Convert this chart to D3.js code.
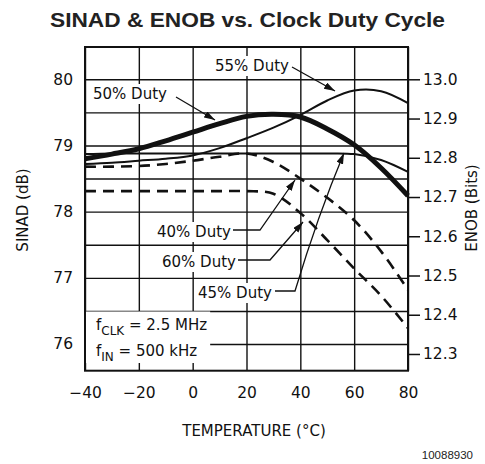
<!DOCTYPE html>
<html><head><meta charset="utf-8">
<script src="https://cdn.jsdelivr.net/npm/d3@7"></script>
<style>body{margin:0;background:#fff}</style>
</head><body>
<svg id="c" width="485" height="464"></svg>
<script>
// ---- data ----
const temps  = [-40, -30, -20, -10, 0, 10, 20, 30, 40, 50, 60, 70, 80];
const duty50 = [78.80, 78.87, 78.95, 79.07, 79.20, 79.33, 79.44, 79.47, 79.43, 79.25, 79.01, 78.66, 78.24];
const duty55 = [78.72, 78.74, 78.77, 78.80, 78.85, 78.96, 79.11, 79.27, 79.46, 79.68, 79.83, 79.82, 79.64];
const duty45 = [78.87, 78.88, 78.88, 78.88, 78.88, 78.88, 78.88, 78.88, 78.88, 78.88, 78.87, 78.78, 78.60];
const duty40 = [78.68, 78.68, 78.69, 78.72, 78.77, 78.83, 78.88, 78.75, 78.50, 78.21, 77.87, 77.40, 76.82];
const duty60 = [78.31, 78.31, 78.31, 78.31, 78.31, 78.31, 78.31, 78.27, 77.98, 77.57, 77.14, 76.73, 76.24];
const xTicks = [-40, -20, 0, 20, 40, 60, 80];
const sinadGrid = [76, 76.5, 77, 77.5, 78, 78.5, 79, 79.5, 80];
const sinadLabels = [76, 77, 78, 79, 80];
const enobTicks = [12.3, 12.4, 12.5, 12.6, 12.7, 12.8, 12.9, 13.0];

const svg = d3.select("#c");
const L = 85, R = 408, T = 47, B = 370.7;
const x = d3.scaleLinear().domain([-40, 80]).range([L, R]);
const y = d3.scaleLinear().domain([75.597, 80.488]).range([B, T]);
const y2 = d3.scaleLinear().domain([12.2574, 13.0823]).range([B, T]);
const FONT = "DejaVu Sans";
const INK = "#111";

svg.append("defs").append("marker")
  .attr("id", "ah").attr("markerUnits", "userSpaceOnUse")
  .attr("markerWidth", 12).attr("markerHeight", 8)
  .attr("refX", 11).attr("refY", 3.5).attr("orient", "auto")
  .append("path").attr("d", "M0,0 L11,3.5 L0,7 Z").attr("fill", INK);

// title
svg.append("text").attr("x", 247.5).attr("y", 27).attr("text-anchor", "middle")
  .attr("font-family", "Liberation Sans, Arial, sans-serif").attr("font-weight", "bold")
  .attr("font-size", 21).attr("fill", "#222")
  .attr("textLength", 395).attr("lengthAdjust", "spacingAndGlyphs")
  .text("SINAD & ENOB vs. Clock Duty Cycle");

// x axis with gridlines
const gx = svg.append("g").attr("transform", `translate(0,${B})`)
  .call(d3.axisBottom(x).tickValues(xTicks).tickSize(-(B - T)).tickPadding(16)
    .tickFormat(d => d < 0 ? "\u2212" + Math.abs(d) : d));
gx.select(".domain").remove();
gx.selectAll("line").attr("stroke", INK).attr("stroke-width", 1.4);
gx.selectAll("text").attr("font-family", FONT).attr("font-size", 15.5).attr("fill", INK);

// left axis with gridlines
const gy = svg.append("g").attr("transform", `translate(${L},0)`)
  .call(d3.axisLeft(y).tickValues(sinadGrid).tickSize(-(R - L)).tickPadding(12)
    .tickFormat(d => sinadLabels.includes(d) ? d : ""));
gy.select(".domain").remove();
gy.selectAll("line").attr("stroke", INK).attr("stroke-width", 1.4);
gy.selectAll("text").attr("font-family", FONT).attr("font-size", 15.5).attr("fill", INK);

// right axis
const gr = svg.append("g").attr("transform", `translate(${R},0)`)
  .call(d3.axisRight(y2).tickValues(enobTicks).tickSize(12).tickPadding(3)
    .tickFormat(d3.format(".1f")));
gr.select(".domain").remove();
gr.selectAll("line").attr("stroke", INK).attr("stroke-width", 1.5);
gr.selectAll("text").attr("font-family", FONT).attr("font-size", 15.5).attr("fill", INK);

// frame
svg.append("rect").attr("x", L).attr("y", T).attr("width", R - L).attr("height", B - T)
  .attr("fill", "none").attr("stroke", INK).attr("stroke-width", 2);

// axis titles
svg.append("text").attr("transform", `translate(28,210) rotate(-90)`).attr("text-anchor", "middle")
  .attr("font-family", FONT).attr("font-size", 15).attr("fill", INK).text("SINAD (dB)");
svg.append("text").attr("transform", `translate(477,208) rotate(-90)`).attr("text-anchor", "middle")
  .attr("font-family", FONT).attr("font-size", 15).attr("fill", INK).text("ENOB (Bits)");
svg.append("text").attr("x", 254).attr("y", 436).attr("text-anchor", "middle")
  .attr("font-family", FONT).attr("font-size", 15).attr("fill", INK).text("TEMPERATURE (\u00B0C)");
svg.append("text").attr("x", 473).attr("y", 459).attr("text-anchor", "end")
  .attr("font-family", "Liberation Sans, Arial, sans-serif").attr("font-size", 11.5).attr("fill", "#222").text("10088930");

// curves
const line = d3.line().x((d, i) => x(temps[i])).y(d => y(d)).curve(d3.curveCatmullRom.alpha(0.5));
const series = [
  {v: duty60, w: 2.6, dash: "11,7"},
  {v: duty40, w: 2.6, dash: "11,7"},
  {v: duty45, w: 2, dash: null},
  {v: duty55, w: 2, dash: null},
  {v: duty50, w: 5, dash: null}
];
series.forEach(s => {
  svg.append("path").attr("d", line(s.v)).attr("fill", "none").attr("stroke", INK)
    .attr("stroke-width", s.w).attr("stroke-dasharray", s.dash);
});

// labels with white boxes
function label(txt, tx, ty) {
  const g = svg.append("g");
  const r = g.append("rect").attr("fill", "#fff");
  const t = g.append("text").attr("x", tx).attr("y", ty).attr("font-family", FONT)
    .attr("font-size", 15).attr("fill", INK).text(txt);
  const b = t.node().getBBox();
  r.attr("x", b.x - 3).attr("y", b.y - 1).attr("width", b.width + 6).attr("height", b.height + 2);
}
label("55% Duty", 215, 71);
label("50% Duty", 93, 99);
label("40% Duty", 157, 237);
label("60% Duty", 162, 267);
label("45% Duty", 198, 298);

const leader = (d) => svg.append("path").attr("d", d).attr("fill", "none")
  .attr("stroke", INK).attr("stroke-width", 1.3).attr("marker-end", "url(#ah)");
leader("M292,67 L335,91");
leader("M176,97 L215,120");
leader("M233,230 H260 L295,180");
leader("M238,260 H270 L303,222");
leader("M275,291 H295 Q318,215 344,153");

// fCLK / fIN box
const fg = svg.append("g");
const fr = fg.append("rect").attr("fill", "#fff");
const t1 = fg.append("text").attr("x", 96).attr("y", 330).attr("font-family", FONT)
  .attr("font-size", 15).attr("fill", INK);
t1.append("tspan").text("f");
t1.append("tspan").attr("dy", 5).attr("font-size", 12).text("CLK");
t1.append("tspan").attr("dy", -5).text(" = 2.5 MHz");
const t2 = fg.append("text").attr("x", 96).attr("y", 356).attr("font-family", FONT)
  .attr("font-size", 15).attr("fill", INK);
t2.append("tspan").text("f");
t2.append("tspan").attr("dy", 5).attr("font-size", 12).text("IN");
t2.append("tspan").attr("dy", -5).text(" = 500 kHz");
const b1 = t1.node().getBBox(), b2 = t2.node().getBBox();
const fx2 = Math.max(b1.x + b1.width, b2.x + b2.width) + 3;
fr.attr("x", L + 1).attr("y", 311.5).attr("width", fx2 - L - 1).attr("height", 363 - 311.5);
</script>
</body></html>
